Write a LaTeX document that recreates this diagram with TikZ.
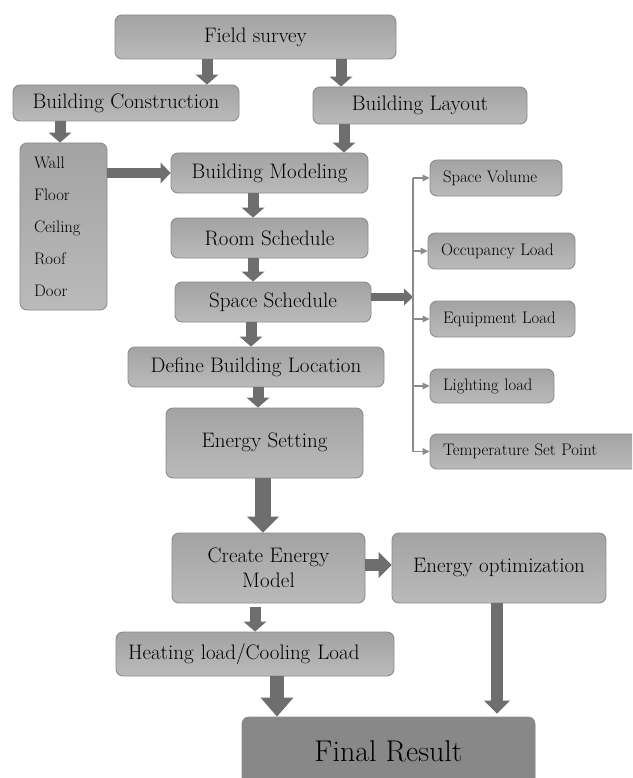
\documentclass[tikz,border=0pt]{standalone}
\usetikzlibrary{arrows.meta}
\definecolor{arr}{RGB}{110,110,110}
\definecolor{bline}{RGB}{140,140,140}
\definecolor{btop}{RGB}{163,163,163}
\definecolor{bbot}{RGB}{186,186,186}
\definecolor{fres}{RGB}{136,136,136}
\definecolor{thinc}{RGB}{140,140,140}
\tikzset{
  box/.style={draw=bline, line width=0.9pt, top color=btop, bottom color=bbot,
    rounded corners=7pt, inner sep=0pt, font=\fontsize{21}{25}\selectfont},
  sbox/.style={box, font=\fontsize{16.7}{20}\selectfont, align=left, inner xsep=13pt},
  fat/.style={draw=arr, line width=11pt, -{Triangle[width=23pt,length=10pt,line width=0pt]}},
  fatb/.style={draw=arr, line width=16pt, -{Triangle[width=32pt,length=16pt,line width=0pt]}},
  fatc/.style={draw=arr, line width=14pt, -{Triangle[width=33pt,length=19pt,line width=0pt]}},
  fatd/.style={draw=arr, line width=12pt, -{Triangle[width=26pt,length=13pt,line width=0pt]}},
  fatm/.style={draw=arr, line width=8pt, -{Triangle[width=17pt,length=9pt,line width=0pt]}},
  thinline/.style={draw=thinc, line width=1.3pt},
  thinarr/.style={draw=thinc, line width=1.3pt, -{Triangle[width=7pt,length=7pt,line width=0pt]}},
}
\begin{document}
\begin{tikzpicture}[x=1pt,y=-1pt]
\clip (0,0) rectangle (632,778);
\fill[white] (0,0) rectangle (632,778);

% main boxes
\node[box, minimum width=281pt, minimum height=44pt] (fs) at (255.5,37) {Field survey};
\node[box, minimum width=226pt, minimum height=36pt] (bc) at (126,103) {Building Construction};
\node[box, minimum width=214pt, minimum height=37pt] (bl) at (420,105.5) {Building Layout};
\node[box, minimum height=167pt, text width=59pt, inner xsep=14pt, align=left,
      font=\fontsize{16.7}{32}\selectfont] (wall) at (63.5,226.5)
      {Wall\\Floor\\Ceiling\\Roof\\Door};
\node[box, minimum width=197pt, minimum height=40pt] (bm) at (269.5,173) {Building Modeling};
\node[box, minimum width=197pt, minimum height=40pt] (rs) at (269.5,238) {Room Schedule};
\node[box, minimum width=196pt, minimum height=40pt] (ss) at (273,302) {Space Schedule};
\node[box, minimum width=256pt, minimum height=40pt] (dbl) at (256,367) {Define Building Location};
\node[box, minimum width=197pt, minimum height=70pt] (es) at (264.5,443) {\raisebox{6pt}{Energy Setting}};
\node[box, minimum width=193pt, minimum height=70pt, align=center] (cem) at (268.5,568)
      {\raisebox{2.5pt}{\parbox{180pt}{\centering\baselineskip=25pt Create Energy\\Model}}};
\node[box, minimum width=214pt, minimum height=70pt] (eo) at (499,568) {\raisebox{6pt}{Energy optimization}};
\node[box, minimum height=44pt, text width=254pt, inner xsep=12pt, align=left] (hl) at (255,654)
      {Heating load/Cooling Load};
\node[box, fill=fres, top color=fres, bottom color=fres, minimum width=293pt, minimum height=83pt,
      font=\fontsize{30}{34}\selectfont] (fr) at (388.5,758.5) {\raisebox{15.5pt}{Final Result}};

% right boxes
\node[sbox, minimum height=36pt, text width=106pt] (sv) at (496,178) {Space Volume};
\node[sbox, minimum height=36pt, text width=121pt] (ol) at (501.5,251) {Occupancy Load};
\node[sbox, minimum height=36pt, text width=119pt] (el) at (502.5,319) {Equipment Load};
\node[sbox, minimum height=34pt, text width=98pt] (ll) at (492,386) {Lighting load};
\node[sbox, minimum height=35pt, text width=204pt] (tsp) at (545,451.5) {Temperature Set Point};

% helper x positions
\coordinate (x1) at (207,0);
\coordinate (x2) at (341,0);
\coordinate (x3) at (60,0);
\coordinate (x4) at (344,0);
\coordinate (x5) at (253,0);
\coordinate (x6) at (251,0);
\coordinate (x7) at (258,0);
\coordinate (x8) at (263,0);
\coordinate (x9) at (255,0);
\coordinate (x10) at (277,0);
\coordinate (x11) at (497,0);
\coordinate (vx) at (413,0);

% fat arrows
\draw[fat] (fs.south -| x1) -- (bc.north -| x1);
\draw[fat] (fs.south -| x2) -- (bl.north -| x2);
\draw[fat] (bc.south -| x3) -- (wall.north -| x3);
\draw[fat] (bl.south -| x4) -- (bm.north -| x4);
\draw[fat, line width=9pt, -{Triangle[width=21pt,length=10pt,line width=0pt]}] (wall.east |- bm.west) -- (bm.west);
\draw[fat] (bm.south -| x5) -- (rs.north -| x5);
\draw[fat] (rs.south -| x5) -- (ss.north -| x5);
\draw[fat] (ss.south -| x6) -- (dbl.north -| x6);
\draw[fat] (dbl.south -| x7) -- (es.north -| x7);
\draw[fatb] (es.south -| x8) -- (cem.north -| x8);
\draw[fatd] ([yshift=3pt]cem.east) -- ([yshift=3pt]cem.east -| eo.west);
\draw[fat] ([yshift=-4pt]cem.south -| x9) -- (hl.north -| x9);
\draw[fatc] (hl.south -| x10) -- (fr.north -| x10);
\draw[fatd] (eo.south -| x11) -- ([yshift=3pt]fr.north -| x11);

% right branch
\draw[fatm] ([yshift=5pt]ss.east) -- ([yshift=5pt]ss.east -| vx);
\draw[thinline] (sv.west -| vx) -- (tsp.west -| vx);
\draw[thinarr] (sv.west -| vx) -- (sv.west);
\draw[thinarr] (ol.west -| vx) -- (ol.west);
\draw[thinarr] (el.west -| vx) -- (el.west);
\draw[thinarr] (ll.west -| vx) -- (ll.west);
\draw[thinarr] (tsp.west -| vx) -- (tsp.west);
\end{tikzpicture}
\end{document}
